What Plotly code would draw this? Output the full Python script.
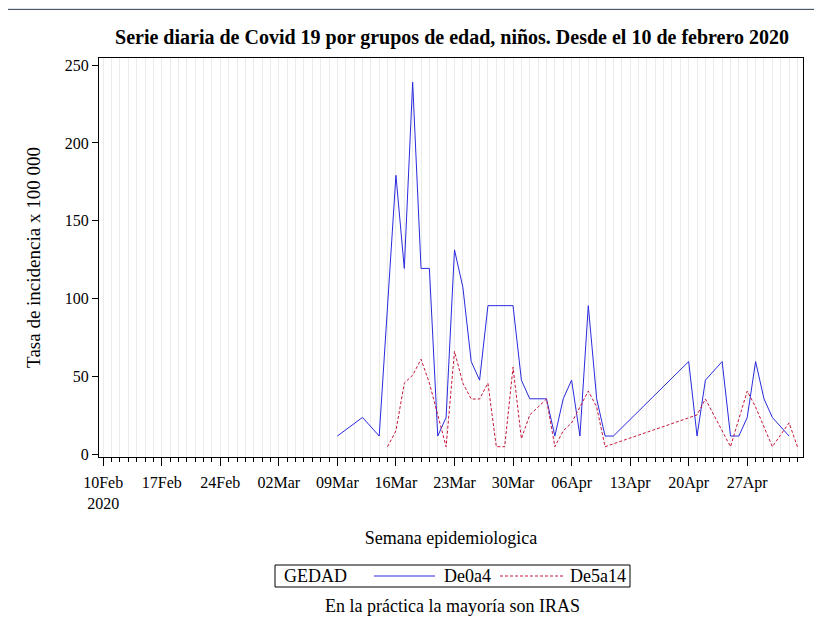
import plotly.graph_objects as go

# daily incidence rate per 100 000, children, by age group
dates_0a4 = ["2020-03-09", "2020-03-12", "2020-03-14", "2020-03-16", "2020-03-17", "2020-03-18",
             "2020-03-19", "2020-03-20", "2020-03-21", "2020-03-22", "2020-03-23", "2020-03-24",
             "2020-03-25", "2020-03-26", "2020-03-27", "2020-03-28", "2020-03-29", "2020-03-30",
             "2020-03-31", "2020-04-01", "2020-04-02", "2020-04-03", "2020-04-04", "2020-04-05",
             "2020-04-06", "2020-04-07", "2020-04-08", "2020-04-09", "2020-04-10", "2020-04-11",
             "2020-04-20", "2020-04-21", "2020-04-22", "2020-04-24", "2020-04-25", "2020-04-26",
             "2020-04-27", "2020-04-28", "2020-04-29", "2020-04-30", "2020-05-02"]
tasa_0a4 = [11.95, 23.9, 11.95, 179.2, 119.5, 239.0, 119.5, 119.5, 11.95, 23.9, 131.4, 107.5,
            59.75, 47.8, 95.6, 95.6, 95.6, 95.6, 47.8, 35.85, 35.85, 35.85, 11.95, 35.85,
            47.8, 11.95, 95.6, 35.85, 11.95, 11.95, 59.75, 11.95, 47.8, 59.75, 11.95, 11.95,
            23.9, 59.75, 35.85, 23.9, 11.95]

dates_5a14 = ["2020-03-15", "2020-03-16", "2020-03-17", "2020-03-18", "2020-03-19", "2020-03-20",
              "2020-03-21", "2020-03-22", "2020-03-23", "2020-03-24", "2020-03-25", "2020-03-26",
              "2020-03-27", "2020-03-28", "2020-03-29", "2020-03-30", "2020-03-31", "2020-04-01",
              "2020-04-03", "2020-04-04", "2020-04-05", "2020-04-06", "2020-04-08", "2020-04-09",
              "2020-04-10", "2020-04-21", "2020-04-22", "2020-04-25", "2020-04-27", "2020-04-28",
              "2020-04-30", "2020-05-02", "2020-05-03"]
tasa_5a14 = [5.1, 15.3, 45.9, 51.0, 61.2, 45.9, 25.5, 5.1, 66.3, 45.9, 35.7, 35.7,
             45.9, 5.1, 5.1, 56.1, 10.2, 25.5, 35.7, 5.1, 15.3, 20.4, 40.8, 30.6,
             5.1, 25.5, 35.7, 5.1, 40.8, 30.6, 5.1, 20.4, 5.1]

week_ticks = ["2020-02-10", "2020-02-17", "2020-02-24", "2020-03-02", "2020-03-09", "2020-03-16",
              "2020-03-23", "2020-03-30", "2020-04-06", "2020-04-13", "2020-04-20", "2020-04-27"]
week_labels = ["10Feb<br>2020", "17Feb", "24Feb", "02Mar", "09Mar", "16Mar",
               "23Mar", "30Mar", "06Apr", "13Apr", "20Apr", "27Apr"]

FONT = "Liberation Serif"
GRID = "#ebebeb"
BLUE = "#2a2ade"
RED = "#c8143a"
RED_DASH = "3px,2px"

# the page body adds an 8px offset, so the figure is laid out 8px smaller
OFF = 8
W, H = 822 - OFF, 626 - OFF
L, R, T, B = 99 - OFF, W - (803 - OFF), 58 - OFF, H - (457 - OFF)
pw, ph = W - L - R, H - T - B


def px(x):
    # page pixel -> paper x
    return (x - OFF - L) / pw


def py(y):
    # page pixel -> paper y
    return (H - B - (y - OFF)) / ph


fig = go.Figure()

fig.add_trace(go.Scatter(
    x=dates_0a4, y=tasa_0a4, mode="lines", name="De0a4",
    line=dict(color=BLUE, width=1)
))
fig.add_trace(go.Scatter(
    x=dates_5a14, y=tasa_5a14, mode="lines", name="De5a14",
    line=dict(color=RED, width=1, dash=RED_DASH)
))

# window-like frame around the graph
fig.add_shape(type="rect", xref="paper", yref="paper", layer="below",
              x0=px(5), x1=px(840), y0=py(650), y1=py(10),
              fillcolor="white", line=dict(width=0))
fig.add_shape(type="line", xref="paper", yref="paper",
              x0=px(5), x1=px(840), y0=py(9.5), y1=py(9.5),
              line=dict(color="#555555", width=1))

# SAS-style legend box: GEDAD  ---- De0a4  - - - De5a14
leg_y = py(576)
fig.add_shape(type="rect", xref="paper", yref="paper",
              x0=px(275), x1=px(630), y0=py(587), y1=py(565),
              line=dict(color="black", width=1), fillcolor="white")
fig.add_shape(type="line", xref="paper", yref="paper",
              x0=px(374), x1=px(435), y0=leg_y, y1=leg_y,
              line=dict(color=BLUE, width=1))
fig.add_shape(type="line", xref="paper", yref="paper",
              x0=px(500), x1=px(563), y0=leg_y, y1=leg_y,
              line=dict(color=RED, width=1, dash=RED_DASH))
for label, x in [("GEDAD", 282), ("De0a4", 442), ("De5a14", 568)]:
    fig.add_annotation(
        text=label, xref="paper", yref="paper", x=px(x), y=leg_y,
        xanchor="left", yanchor="middle", showarrow=False,
        font=dict(family=FONT, size=18, color="black")
    )

fig.add_annotation(
    text="En la práctica la mayoría son IRAS", xref="paper", yref="paper",
    x=px(452), y=py(606), showarrow=False, xanchor="center", yanchor="middle",
    font=dict(family=FONT, size=18, color="black")
)

fig.update_layout(
    width=W, height=H,
    margin=dict(l=L, r=R, t=T, b=B),
    paper_bgcolor="#d5e4f2",
    plot_bgcolor="white",
    showlegend=False,
    font=dict(family=FONT, size=16, color="black"),
    title=dict(
        text="<b>Serie diaria de Covid 19 por grupos de edad, niños. Desde el 10 de febrero 2020</b>",
        x=px(452), xref="paper", xanchor="center",
        y=1 - (37 - OFF) / H, yref="container", yanchor="middle",
        font=dict(family=FONT, size=20, color="black")
    ),
    xaxis=dict(
        range=["2020-02-09 12:00", "2020-05-03 16:00"],
        tickmode="array", tickvals=week_ticks, ticktext=week_labels,
        ticks="outside", ticklen=8, tickcolor="black", ticklabelstandoff=3,
        showgrid=True, gridcolor=GRID, gridwidth=1,
        minor=dict(dtick=86400000, tick0="2020-02-10", ticks="outside", ticklen=4,
                   tickcolor="black", showgrid=True, gridcolor=GRID, gridwidth=1),
        showline=True, linecolor="black", linewidth=1, mirror=True,
        zeroline=False,
        title=dict(text="Semana epidemiologica", font=dict(size=18), standoff=20),
        tickfont=dict(size=16),
    ),
    yaxis=dict(
        range=[-1.5, 254.5],
        tickvals=[0, 50, 100, 150, 200, 250],
        ticks="outside", ticklen=6, tickcolor="black",
        showgrid=False, zeroline=False,
        showline=True, linecolor="black", linewidth=1, mirror=True,
        title=dict(text="Tasa de incidencia x 100 000", font=dict(size=19), standoff=19),
        tickfont=dict(size=16),
    ),
)

fig.write_html("out.html")
